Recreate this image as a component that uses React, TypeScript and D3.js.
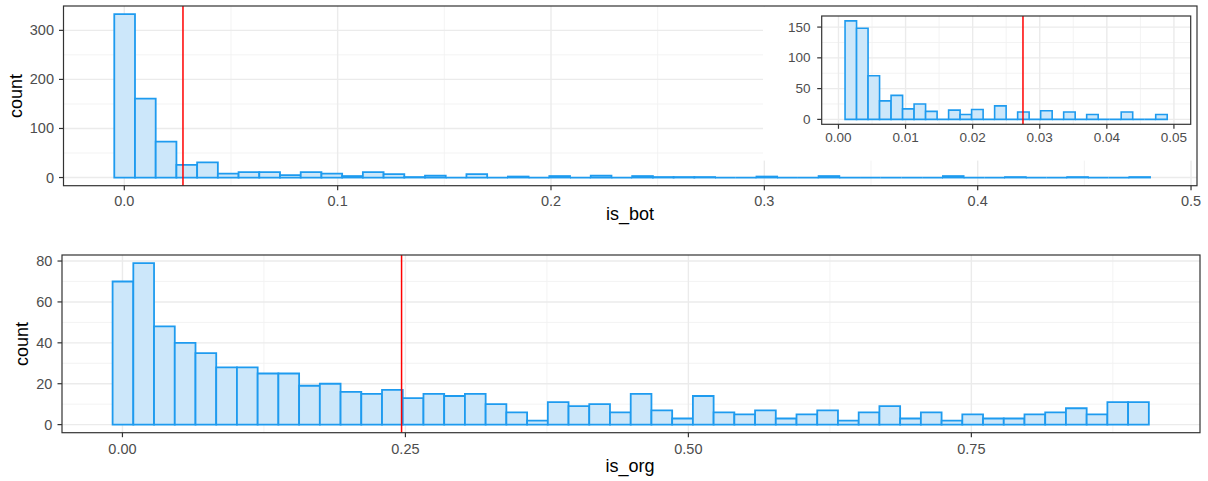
import React from 'react';
import * as d3 from 'd3';

// is_bot histogram (50 bins)
const botCounts = [
  333, 161, 73, 26, 31, 8, 11, 11, 5, 11,
  8, 3, 11, 7, 1, 4, 0, 7, 0, 2,
  0, 3, 0, 4, 0, 3, 1, 1, 1, 0,
  0, 2, 0, 0, 3, 0, 0, 0, 0, 0,
  3, 0, 0, 1, 0, 0, 1, 0, 0, 1,
];
const botBinStart = -0.0047;
const botBinWidth = 0.00971;
const botMean = 0.0275;
const botXTicks = [0, 0.1, 0.2, 0.3, 0.4, 0.5];
const botXMinor = [0.05, 0.15, 0.25, 0.35, 0.45];
const botYTicks = [0, 100, 200, 300];
const botYMinor = [50, 150, 250];

// zoomed inset, is_bot < 0.05
const insetCounts = [
  160, 148, 71, 30, 39, 17, 25, 13, 0, 15,
  8, 16, 0, 22, 0, 12, 0, 14, 0, 12,
  0, 8, 0, 0, 12, 0, 0, 8,
];
const insetBinStart = 0.00098;
const insetBinWidth = 0.001715;
const insetXLimits = [0, 0.05];
const insetXTicks = [0, 0.01, 0.02, 0.03, 0.04, 0.05];
const insetXMinor = [0.005, 0.015, 0.025, 0.035, 0.045];
const insetYTicks = [0, 50, 100, 150];
const insetYMinor = [25, 75, 125];

// is_org histogram (50 bins)
const orgCounts = [
  70, 79, 48, 40, 35, 28, 28, 25, 25, 19,
  20, 16, 15, 17, 13, 15, 14, 15, 10, 6,
  2, 11, 9, 10, 6, 15, 7, 3, 14, 6,
  5, 7, 3, 5, 7, 2, 6, 9, 3, 6,
  2, 5, 3, 3, 5, 6, 8, 5, 11, 11,
];
const orgBinStart = -0.0087;
const orgBinWidth = 0.01831;
const orgMean = 0.2466;
const orgXTicks = [0, 0.25, 0.5, 0.75];
const orgXMinor = [0.125, 0.375, 0.625, 0.875];
const orgYTicks = [0, 20, 40, 60, 80];
const orgYMinor = [10, 30, 50, 70];

const FONT = '"Liberation Sans", Arial, Helvetica, sans-serif';
const STROKE = '#1E9BEF';
const FILL = '#CCE7FA';

const expand = (lo, hi, m = 0.05) => [lo - (hi - lo) * m, hi + (hi - lo) * m];

function Histogram(props) {
  const {
    counts, binStart, binWidth, xDomain, box, xTicks, xMinor, xFmt,
    yTicks, yMinor, vline, tickSize, xLabelY, yLabelX, children, strokeW,
  } = props;
  const x = d3.scaleLinear().domain(xDomain).range([box.left, box.right]);
  const yMax = d3.max(counts);
  const y = d3.scaleLinear().domain(expand(0, yMax)).range([box.bottom, box.top]);
  const inX = (v) => x(v) >= box.left && x(v) <= box.right;

  return (
    <g>
      <rect x={box.left} y={box.top} width={box.right - box.left} height={box.bottom - box.top} fill="white" />
      {xMinor.filter(inX).map((v) => (
        <line key={'xm' + v} x1={x(v)} x2={x(v)} y1={box.top} y2={box.bottom} stroke="#F2F2F2" strokeWidth={0.9} />
      ))}
      {yMinor.map((v) => (
        <line key={'ym' + v} x1={box.left} x2={box.right} y1={y(v)} y2={y(v)} stroke="#F2F2F2" strokeWidth={0.9} />
      ))}
      {xTicks.filter(inX).map((v) => (
        <line key={'xg' + v} x1={x(v)} x2={x(v)} y1={box.top} y2={box.bottom} stroke="#EBEBEB" strokeWidth={1.4} />
      ))}
      {yTicks.map((v) => (
        <line key={'yg' + v} x1={box.left} x2={box.right} y1={y(v)} y2={y(v)} stroke="#EBEBEB" strokeWidth={1.4} />
      ))}
      {counts.map((c, i) => {
        const x0 = x(binStart + i * binWidth);
        const x1 = x(binStart + (i + 1) * binWidth);
        // path instead of rect so empty bins still show their outline on the baseline
        const d = `M${x0},${y(0)}V${y(c)}H${x1}V${y(0)}Z`;
        return <path key={'b' + i} d={d} fill={FILL} stroke={STROKE} strokeWidth={strokeW} />;
      })}
      <line x1={x(vline)} x2={x(vline)} y1={box.top} y2={box.bottom} stroke="#FF0000" strokeWidth={1.5} />
      {children}
      <rect x={box.left} y={box.top} width={box.right - box.left} height={box.bottom - box.top}
        fill="none" stroke="#333333" strokeWidth={1.2} />
      {xTicks.map((v) => (
        <g key={'xt' + v}>
          <line x1={x(v)} x2={x(v)} y1={box.bottom} y2={box.bottom + 4.5} stroke="#333333" strokeWidth={1.2} />
          <text x={x(v)} y={xLabelY} textAnchor="middle" fontSize={tickSize} fill="#4D4D4D" fontFamily={FONT}>
            {xFmt(v)}
          </text>
        </g>
      ))}
      {yTicks.map((v) => (
        <g key={'yt' + v}>
          <line x1={box.left - 4.5} x2={box.left} y1={y(v)} y2={y(v)} stroke="#333333" strokeWidth={1.2} />
          <text x={yLabelX} y={y(v)} textAnchor="end" dominantBaseline="central" fontSize={tickSize}
            fill="#4D4D4D" fontFamily={FONT}>
            {v}
          </text>
        </g>
      ))}
    </g>
  );
}

export default function App() {
  const botBox = { left: 63.5, right: 1197, top: 6, bottom: 185.7 };
  const orgBox = { left: 62, right: 1200, top: 255, bottom: 432.7 };
  const insetBox = { left: 821.7, right: 1190.7, top: 16, bottom: 124.3 };

  return (
    <svg width={1208} height={481} style={{ position: 'absolute', left: 0, top: 0, background: 'white' }}>
      <Histogram
        counts={botCounts} binStart={botBinStart} binWidth={botBinWidth}
        xDomain={[-0.0285, 0.5028]} box={botBox}
        xTicks={botXTicks} xMinor={botXMinor} xFmt={d3.format('.1f')}
        yTicks={botYTicks} yMinor={botYMinor} vline={botMean}
        tickSize={14.5} xLabelY={206} yLabelX={54} strokeW={1.8}
      >
        <rect x={763} y={botBox.top + 0.6} width={botBox.right - 763} height={154} fill="white" />
        <Histogram
          counts={insetCounts} binStart={insetBinStart} binWidth={insetBinWidth}
          xDomain={expand(insetXLimits[0], insetXLimits[1])} box={insetBox}
          xTicks={insetXTicks} xMinor={insetXMinor} xFmt={d3.format('.2f')}
          yTicks={insetYTicks} yMinor={insetYMinor} vline={botMean}
          tickSize={13.5} xLabelY={141.5} yLabelX={810.5} strokeW={1.6}
        />
      </Histogram>
      <text x={630} y={220} textAnchor="middle" fontSize={18} fontFamily={FONT} fill="black">is_bot</text>
      <text transform="translate(21.7,96) rotate(-90)" textAnchor="middle" fontSize={18} fontFamily={FONT} fill="black">count</text>

      <Histogram
        counts={orgCounts} binStart={orgBinStart} binWidth={orgBinWidth}
        xDomain={[-0.0534, 0.952]} box={orgBox}
        xTicks={orgXTicks} xMinor={orgXMinor} xFmt={d3.format('.2f')}
        yTicks={orgYTicks} yMinor={orgYMinor} vline={orgMean}
        tickSize={14.5} xLabelY={454} yLabelX={52.3} strokeW={1.8}
      />
      <text x={630} y={471.5} textAnchor="middle" fontSize={18} fontFamily={FONT} fill="black">is_org</text>
      <text transform="translate(28,344) rotate(-90)" textAnchor="middle" fontSize={18} fontFamily={FONT} fill="black">count</text>
    </svg>
  );
}
